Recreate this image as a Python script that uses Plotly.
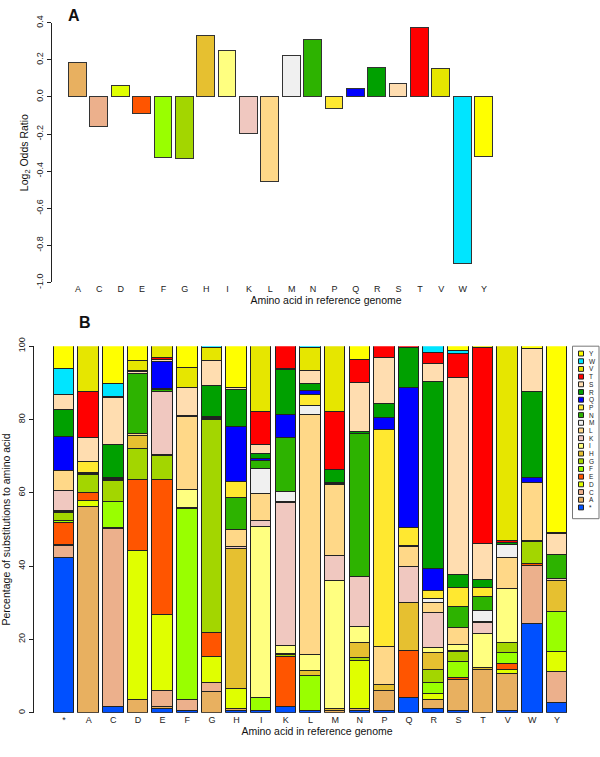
import plotly.graph_objects as go

# ---------------- data ----------------
aa_ref_A = ["A", "C", "D", "E", "F", "G", "H", "I", "K", "L",
            "M", "N", "P", "Q", "R", "S", "T", "V", "W", "Y"]
log2_odds = [0.185, -0.16, 0.06, -0.09, -0.33, -0.335, 0.33, 0.25, -0.2, -0.455,
             0.22, 0.31, -0.065, 0.045, 0.16, 0.07, 0.375, 0.15, -0.9, -0.32]

aa_all = ["*"] + aa_ref_A
aa_colors = ["#0050FF", "#E8B060", "#ECB08C", "#E0FF00", "#FF5500", "#99FF00",
             "#A3D600", "#E6C030", "#FFFF80", "#F0C8C0", "#FFD888", "#F0F0F0",
             "#2DB300", "#FFE830", "#0000FF", "#00A000", "#FFDDB0", "#FF0000",
             "#E6E600", "#00E5FF", "#FFFF00"]

# percentage of substitutions, per reference amino acid (bar),
# to each amino acid in order: * A C D E F G H I K L M N P Q R S T V W Y
ref_star = [42.2, 0, 3.2, 0.4, 6.0, 0.5, 2.2, 0.3, 0.3, 5.3, 5.4, 0, 0, 0, 9.3, 7.4, 4.0, 0, 0, 7.25, 6.25]
ref_A = [0, 56.1, 0, 1.7, 2.2, 0, 4.7, 0.35, 0, 0.35, 0, 0, 0, 3.0, 0, 0, 6.4, 12.7, 12.5, 0, 0]
ref_C = [1.5, 0, 48.5, 0.4, 0, 7.0, 5.8, 0.3, 0, 0.3, 0, 0, 0.3, 0, 0, 8.9, 12.7, 0.4, 0, 3.6, 10.3]
ref_D = [0, 3.5, 0, 40.5, 19.4, 0, 8.5, 3.6, 0, 0, 0.5, 0, 16.4, 0, 0, 0, 0.5, 0.3, 2.8, 0, 4.0]
ref_E = [1.0, 0.5, 4.5, 20.5, 36.9, 0, 6.5, 0.2, 0.2, 17.2, 0, 0, 0.4, 0.4, 7.4, 0, 0.45, 0.45, 3.4, 0, 0]
ref_F = [0.3, 0, 3.0, 0, 0, 52.2, 0, 0.4, 4.8, 0, 19.9, 0, 0, 0, 0, 0.4, 7.6, 0, 5.3, 0, 6.1]
ref_G = [0, 5.5, 2.5, 7.1, 6.6, 0, 58.0, 0, 0, 0, 0.3, 0, 0.3, 0, 0.3, 8.6, 6.7, 0, 3.6, 0.5, 0]
ref_H = [0.5, 0.5, 0, 5.5, 0, 0, 0, 38.2, 0, 0.5, 4.6, 0, 8.7, 4.4, 15.0, 10.0, 0.7, 0, 0, 0, 11.4]
ref_I = [0.5, 0, 0, 0, 0, 3.4, 0, 0, 46.8, 1.6, 7.3, 6.9, 2.2, 0, 0.5, 1.4, 2.4, 9.1, 17.9, 0, 0]
ref_K = [1.5, 0, 0, 0, 13.8, 0, 0.35, 0.35, 2.2, 39.0, 0.3, 2.7, 14.6, 0, 6.4, 12.3, 0.3, 6.2, 0, 0, 0]
ref_L = [0.5, 0, 0, 0, 0, 9.5, 0, 1.3, 4.4, 0, 65.5, 2.3, 0, 3.1, 1.1, 2.0, 3.5, 0, 6.3, 0.5, 0]
ref_M = [0, 0.5, 0, 0, 0, 0, 0, 0.5, 35.0, 6.7, 19.3, 0, 0.3, 0, 0.3, 3.7, 0, 15.6, 18.1, 0, 0]
ref_N = [0.5, 0.5, 0, 13.2, 0, 0, 0.6, 4.3, 4.2, 13.8, 0, 0, 38.8, 0, 0, 0.7, 13.3, 6.4, 0, 0, 3.7]
ref_P = [0.5, 5.5, 0, 0, 0, 0, 0, 1.5, 0, 0, 10.5, 0, 0, 59.2, 3.2, 3.8, 12.5, 3.8, 0, 0, 0]
ref_Q = [4.0, 0, 0, 0, 12.7, 0, 0, 13.1, 0, 9.8, 5.6, 0, 0.3, 4.9, 38.2, 10.8, 0, 0.6, 0, 0, 0]
ref_R = [1.0, 2.5, 0, 1.5, 0, 3.0, 3.7, 4.5, 1.4, 9.7, 2.5, 1.3, 0, 2.2, 6.0, 50.8, 5.0, 3.0, 0, 1.9, 0]
ref_S = [0.5, 8.5, 0, 0, 0.5, 4.2, 2.7, 0.4, 1.6, 0, 4.7, 0, 5.8, 5.1, 0, 3.5, 53.8, 6.6, 0, 0.7, 1.4]
ref_T = [0, 11.7, 0, 0, 0, 0, 0, 0.5, 9.3, 2.9, 0.3, 3.0, 3.9, 2.5, 0, 2.2, 9.8, 53.4, 0.5, 0, 0]
ref_V = [0.5, 10.0, 0, 1.0, 1.8, 2.9, 2.9, 0, 14.5, 0, 8.6, 3.6, 0, 0, 0, 0.4, 0, 0.5, 53.3, 0, 0]
ref_W = [24.3, 0, 15.7, 0, 0.5, 0, 6.0, 0, 0, 0.2, 16.0, 0, 0, 0, 1.2, 23.5, 11.7, 0, 0, 0, 0.9]
ref_Y = [2.5, 0, 8.5, 5.4, 0, 11.1, 0, 8.4, 0, 0.5, 0, 0, 6.6, 0, 0, 0.1, 5.6, 0, 0, 0.2, 51.1]

bars_B = [ref_star, ref_A, ref_C, ref_D, ref_E, ref_F, ref_G, ref_H, ref_I, ref_K,
          ref_L, ref_M, ref_N, ref_P, ref_Q, ref_R, ref_S, ref_T, ref_V, ref_W, ref_Y]

# ---------------- figure ----------------
W, H = 600, 757
FONT = "Liberation Sans, Arial, Helvetica, sans-serif"
fig = go.Figure()

def px(x):
    return x / W

def py(y):
    return 1 - y / H

# Panel A
fig.add_trace(go.Bar(
    x=list(range(len(aa_ref_A))), y=log2_odds,
    marker=dict(color=aa_colors[1:], line=dict(color="#333333", width=1)),
    width=0.833, xaxis="x", yaxis="y", showlegend=False, hoverinfo="skip"))

# Panel B (stacked)
for j, aa in enumerate(aa_all):
    vals = [row[j] if row[j] > 0 else None for row in bars_B]
    fig.add_trace(go.Bar(
        x=list(range(len(aa_all))), y=vals, name=aa,
        marker=dict(color=aa_colors[j], line=dict(color="#222222", width=1)),
        width=0.833, xaxis="x2", yaxis="y2", showlegend=False, hoverinfo="skip"))

# geometry (pixels)
A_left, A_top, A_bot = 52, 14, 279
A_c0, A_step = 78, 21.37
B_left, B_top, B_bot = 34, 344, 718
B_c0, B_step = 64, 24.65

tickfont = dict(family=FONT, size=9, color="#222")
titlefont = dict(family=FONT, size=10.5, color="#111")

fig.update_layout(
    width=W, height=H, margin=dict(l=0, r=0, t=0, b=0),
    paper_bgcolor="white", plot_bgcolor="white",
    barmode="stack", bargap=0,
    xaxis=dict(domain=[px(A_left), 1], anchor="y",
               range=[(A_left - A_c0) / A_step, (W - A_c0) / A_step],
               tickmode="array", tickvals=list(range(20)), ticktext=aa_ref_A,
               showline=False, showgrid=False, zeroline=False, ticks="",
               tickfont=tickfont,
               title=dict(text="Amino acid in reference genome", font=titlefont, standoff=2)),
    yaxis=dict(domain=[py(A_bot), py(A_top)], anchor="x", range=[-1.0, 0.4],
               tickmode="array", tickvals=[-1.0, -0.8, -0.6, -0.4, -0.2, 0.0, 0.2, 0.4],
               ticktext=["-1.0", "-0.8", "-0.6", "-0.4", "-0.2", "0.0", "0.2", "0.4"],
               showline=True, linecolor="#222", linewidth=1, ticks="outside",
               ticklen=4, tickcolor="#222", tickangle=-90, tickfont=tickfont,
               showgrid=False, zeroline=False,
               title=dict(text="Log<sub>2</sub> Odds Ratio", font=titlefont, standoff=4)),
    xaxis2=dict(domain=[px(B_left), 1], anchor="y2",
                range=[(B_left - B_c0) / B_step, (W - B_c0) / B_step],
                tickmode="array", tickvals=list(range(21)), ticktext=aa_all,
                showline=False, showgrid=False, zeroline=False, ticks="",
                tickfont=tickfont,
                title=dict(text="Amino acid in reference genome", font=titlefont, standoff=2)),
    yaxis2=dict(domain=[py(B_bot), py(B_top)], anchor="x2", range=[0, 100],
                tickmode="array", tickvals=[0, 20, 40, 60, 80, 100],
                showline=True, linecolor="#222", linewidth=1, ticks="outside",
                ticklen=4, tickcolor="#222", tickangle=-90, tickfont=tickfont,
                showgrid=False, zeroline=False,
                title=dict(text="Percentage of substitutions to amino acid",
                           font=titlefont, standoff=4)),
)

# panel letters
fig.add_annotation(text="<b>A</b>", x=px(74), y=py(7), xref="paper", yref="paper",
                   xanchor="center", yanchor="middle", showarrow=False,
                   font=dict(family=FONT, size=16, color="#111"))
fig.add_annotation(text="<b>B</b>", x=px(85), y=py(320), xref="paper", yref="paper",
                   xanchor="center", yanchor="middle", showarrow=False,
                   font=dict(family=FONT, size=16, color="#111"))

# legend box for panel B (manual, compact like the original)
leg_x0, leg_x1, leg_y0, leg_y1 = 572.5, 599, 344, 520
fig.add_shape(type="rect", xref="paper", yref="paper",
              x0=px(leg_x0), x1=px(leg_x1), y0=py(leg_y1), y1=py(leg_y0),
              line=dict(color="#777", width=1), fillcolor="white")
legend_order = list(reversed(range(len(aa_all))))
item_y0, item_step = 351.5, 7.85
for k, j in enumerate(legend_order):
    yc = item_y0 + k * item_step
    fig.add_shape(type="rect", xref="paper", yref="paper",
                  x0=px(578.5), x1=px(583.5), y0=py(yc + 2.5), y1=py(yc - 2.5),
                  line=dict(color="#222", width=1), fillcolor=aa_colors[j])
    fig.add_annotation(text=aa_all[j], x=px(587), y=py(yc), xref="paper", yref="paper",
                       xanchor="left", yanchor="middle", showarrow=False,
                       font=dict(family=FONT, size=6.5, color="#222"))

fig.write_html("out.html",
               config={"displayModeBar": False},
               post_script="document.body.style.margin='0px';"
                           "document.body.style.overflow='hidden';")
